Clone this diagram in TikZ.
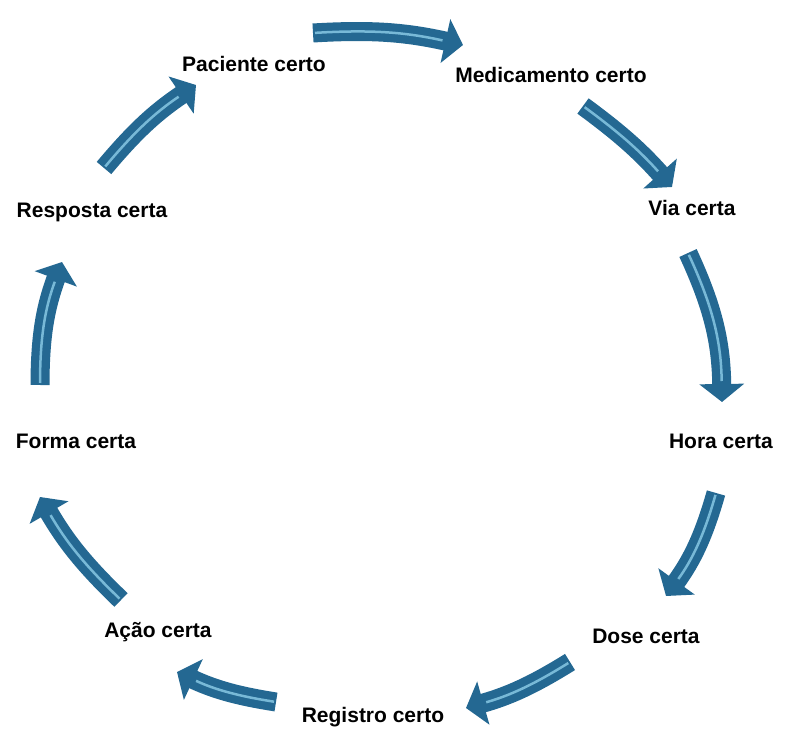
\documentclass[tikz,border=0pt]{standalone}
\usepackage{fontspec}
\setmainfont{Liberation Sans}
\usetikzlibrary{arrows.meta}
\definecolor{arrowblue}{RGB}{36,104,146}
\definecolor{shine}{RGB}{120,185,215}

\tikzset{
  label/.style={text centered, font=\fontsize{21}{24}\selectfont\bfseries},
  blockarrow/.style={draw=arrowblue, line width=19pt, bend left=#1,
    -{Triangle[width=44pt,length=18pt]}},
  shineline/.style={draw=shine, line width=2.5pt, bend left=#1, shorten >=21pt, shorten <=2pt}
}

\begin{document}
\begin{tikzpicture}[x=1pt,y=1pt]
        \useasboundingbox (0,0) rectangle (790,729);
        % nodes %
        \node[label] (paciente) at (254,665) {Paciente certo};
        \node[label] (medicamento) at (551,654) {Medicamento certo};
        \node[label] (via) at (692,521) {Via certa};
        \node[label] (hora) at (721,288) {Hora certa};
        \node[label] (dose) at (646,93) {Dose certa};
        \node[label] (registro) at (373,12) {Registro certo};
        \node[label] (acao) at (158,97) {Ação certa};
        \node[label] (forma) at (76,288) {Forma certa};
        \node[label] (resposta) at (92,517) {Resposta certa};
        % arrow ends %
        \coordinate (a1) at (313,696); \coordinate (b1) at (463,684);
        \coordinate (a2) at (583,623); \coordinate (b2) at (672,542);
        \coordinate (a3) at (688,476); \coordinate (b3) at (722,327);
        \coordinate (a4) at (716,236); \coordinate (b4) at (666,133);
        \coordinate (a5) at (570,67);  \coordinate (b5) at (466,21);
        \coordinate (a6) at (276,27);  \coordinate (b6) at (177,57);
        \coordinate (a7) at (121,129); \coordinate (b7) at (40,232);
        \coordinate (a8) at (40,344);  \coordinate (b8) at (62,467);
        \coordinate (a9) at (104,561); \coordinate (b9) at (196,644);
        % edges %
        \draw[blockarrow=8] (a1) to (b1);
        \draw[blockarrow=6] (a2) to (b2);
        \draw[blockarrow=12] (a3) to (b3);
        \draw[blockarrow=10] (a4) to (b4);
        \draw[blockarrow=8] (a5) to (b5);
        \draw[blockarrow=8] (a6) to (b6);
        \draw[blockarrow=8] (a7) to (b7);
        \draw[blockarrow=10] (a8) to (b8);
        \draw[blockarrow=8] (a9) to (b9);
        % highlights %
        \draw[shineline=8] (a1) to (b1);
        \draw[shineline=6] (a2) to (b2);
        \draw[shineline=12] (a3) to (b3);
        \draw[shineline=10] (a4) to (b4);
        \draw[shineline=8] (a5) to (b5);
        \draw[shineline=8] (a6) to (b6);
        \draw[shineline=8] (a7) to (b7);
        \draw[shineline=10] (a8) to (b8);
        \draw[shineline=8] (a9) to (b9);
\end{tikzpicture}
\end{document}
